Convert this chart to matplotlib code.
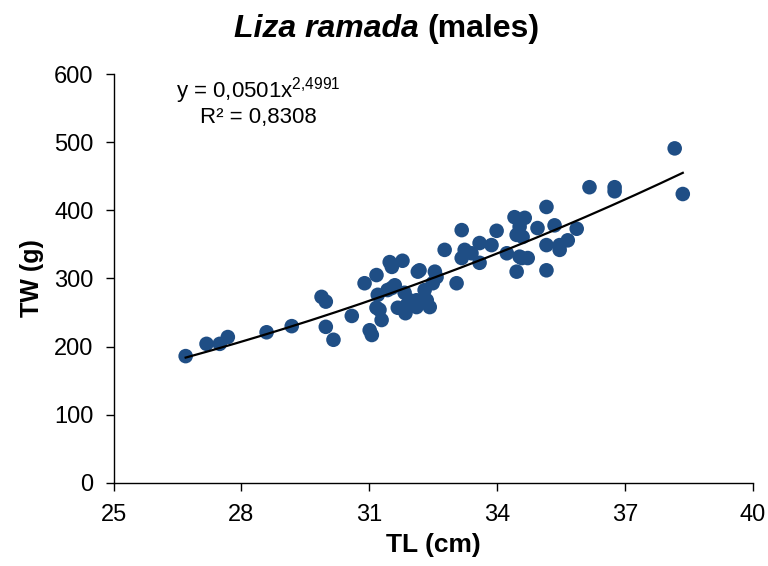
import numpy as np
import matplotlib
matplotlib.use("Agg")
import matplotlib.pyplot as plt

plt.rcParams['font.family'] = ['Liberation Sans', 'DejaVu Sans']
plt.rcParams['mathtext.fontset'] = 'custom'
plt.rcParams['mathtext.rm'] = 'Liberation Sans'
plt.rcParams['mathtext.it'] = 'Liberation Sans:italic'

# total length (cm) and total weight (g)
tl = [26.69, 27.18, 27.49, 27.68, 28.59, 29.18, 29.88, 29.98, 29.98, 30.16,
      30.59, 30.89, 31.01, 31.06, 31.17, 31.20, 31.17, 31.29, 31.48, 31.78,
      31.43, 31.60, 31.24, 31.67, 31.85, 32.11, 32.18, 32.30, 32.54, 32.58,
      32.35, 32.42, 31.95, 32.77, 33.05, 33.17, 33.24, 33.40, 33.59, 33.59,
      33.87, 33.99, 34.23, 34.41, 34.65, 34.46, 34.46, 34.53, 34.72, 34.53,
      34.60, 34.95, 35.16, 35.35, 35.87, 35.16, 35.47, 35.66, 35.47, 34.58,
      35.16, 36.17, 36.76, 36.76, 38.17, 38.36, 33.17, 31.53, 32.14, 32.49,
      31.83, 32.11, 31.88, 31.53]
tw = [186, 204, 204, 214, 221, 230, 273, 266, 229, 210,
      245, 293, 224, 217, 305, 276, 257, 239, 324, 326,
      283, 290, 254, 257, 249, 258, 312, 283, 310, 302,
      268, 258, 268, 342, 293, 371, 342, 337, 352, 323,
      349, 370, 337, 390, 389, 364, 310, 332, 330, 376,
      361, 374, 405, 378, 373, 349, 349, 356, 342, 330,
      312, 434, 434, 428, 491, 424, 330, 317, 310, 293,
      279, 268, 261, 286]

# power trend line y = a * x^b
coef_a = 0.0501
coef_b = 2.4991
r2 = "0,8308"

fig = plt.figure(figsize=(7.68, 5.66), dpi=100)
ax = fig.add_axes([0.148, 0.147, 0.832, 0.722])

ax.scatter(tl, tw, s=110, color='#1f4e85', edgecolors='none', zorder=2)

xs = np.linspace(min(tl), max(tl), 200)
ax.plot(xs, coef_a * xs ** coef_b, color='black', lw=1.6, zorder=3)

ax.set_xlim(25, 40)
ax.set_ylim(0, 600)
ax.set_xticks(range(25, 41, 3))
ax.set_yticks(range(0, 601, 100))
ax.tick_params(direction='out', length=5.5, width=1, labelsize=17)
ax.tick_params(axis='x', pad=10)
ax.tick_params(axis='y', pad=9)
for side in ['top', 'right']:
    ax.spines[side].set_visible(False)
for side in ['left', 'bottom']:
    ax.spines[side].set_linewidth(1)

ax.set_xlabel('TL (cm)', fontsize=19, fontweight='bold', labelpad=5)
ax.set_ylabel('TW (g)', fontsize=18, fontweight='bold', labelpad=7)

fig.text(419 / 768, 1 - 37 / 566, 'Liza ramada', fontsize=23, fontweight='bold',
         fontstyle='italic', ha='right', va='baseline')
fig.text(427 / 768, 1 - 37 / 566, '(males)', fontsize=23, fontweight='bold',
         ha='left', va='baseline')

fig.text(258 / 768, 1 - 98 / 566, r'y = 0,0501x$^{2{,}4991}$',
         fontsize=16, ha='center', va='baseline')
fig.text(258 / 768, 1 - 123 / 566, 'R² = ' + r2,
         fontsize=16, ha='center', va='baseline')

fig.savefig('out.png', dpi=100)
